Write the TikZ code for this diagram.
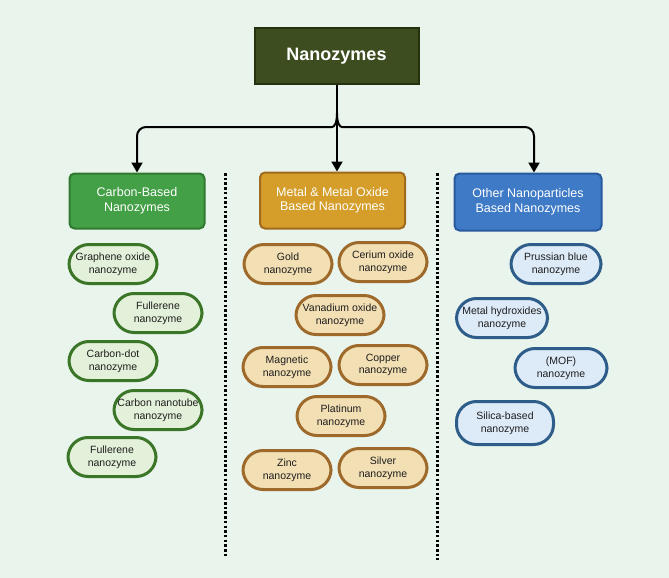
\documentclass[tikz,border=0pt]{standalone}
\usepackage{fontspec}
\setmainfont{Liberation Sans}
\usetikzlibrary{arrows.meta}
\definecolor{bgc}{HTML}{E9F4EC}
\definecolor{topfill}{HTML}{3E4D1F}
\definecolor{topdraw}{HTML}{26310F}
\definecolor{cfill}{HTML}{43A047}
\definecolor{cdraw}{HTML}{2F7A30}
\definecolor{mfill}{HTML}{D59E2A}
\definecolor{mdraw}{HTML}{A06B1E}
\definecolor{ofill}{HTML}{3E7AC6}
\definecolor{odraw}{HTML}{2A5A9E}
\definecolor{cpill}{HTML}{E3F1DA}
\definecolor{cpdraw}{HTML}{3B7527}
\definecolor{mpill}{HTML}{F3DFB4}
\definecolor{mpdraw}{HTML}{9E6A2C}
\definecolor{opill}{HTML}{DDEAF8}
\definecolor{opdraw}{HTML}{2F5D8A}
\definecolor{txt}{HTML}{1E1E1E}
\tikzset{
  catbox/.style={draw, line width=2pt, rounded corners=5pt, text=white,
    font=\fontsize{12.5}{14.5}\selectfont, align=center, inner sep=0pt},
  pill/.style={draw, line width=3pt, rounded corners=20pt, minimum width=88pt,
    minimum height=39pt, text=txt, font=\fontsize{10.5}{12.8}\selectfont, align=center, inner sep=0pt},
  cp/.style={pill, fill=cpill, draw=cpdraw},
  mp/.style={pill, fill=mpill, draw=mpdraw},
  op/.style={pill, fill=opill, draw=opdraw},
  conn/.style={line width=2pt, draw=black, -{Triangle[width=11pt,length=10pt]}},
  sep/.style={line width=3pt, dash pattern=on 2.5pt off 2.2pt, draw=black}
}
\begin{document}
\begin{tikzpicture}[x=1pt,y=-1pt]
\useasboundingbox (0,0) rectangle (669,578);
\fill[bgc] (0,0) rectangle (669,578);

\node[draw=topdraw, fill=topfill, line width=2pt, minimum width=164pt, minimum height=55pt,
  text=white, font=\fontsize{18}{20}\selectfont\bfseries, inner sep=0pt] (top) at (336.5,56) {Nanozymes};

\node[catbox, fill=cfill, draw=cdraw, minimum width=135pt, minimum height=55pt] (carbon) at (137,201) {Carbon-Based\\Nanozymes};
\node[catbox, fill=mfill, draw=mdraw, minimum width=145pt, minimum height=56pt] (metal) at (332.5,200.5) {Metal \& Metal Oxide\\Based Nanozymes};
\node[catbox, fill=ofill, draw=odraw, minimum width=147pt, minimum height=57pt] (other) at (528,202) {Other Nanoparticles\\Based Nanozymes};

% connectors
\coordinate (j) at (337,113);
\coordinate (lc) at (137,127);
\coordinate (rc) at (534,127);
\coordinate (mc) at (337,127);
\draw[conn] (top.south -| mc) -- (mc |- metal.north);
\draw[conn, rounded corners=9pt] (j) .. controls (337,124) and (334,127) .. (323,127) -- (lc) -- (lc |- carbon.north);
\draw[conn, rounded corners=9pt] (j) .. controls (337,124) and (340,127) .. (351,127) -- (rc) -- (rc |- other.north);

% separators
\coordinate (s1a) at (225,173);
\coordinate (s1b) at (225,556);
\coordinate (s2a) at (437,173);
\coordinate (s2b) at (437,560);
\draw[sep] (s1a) -- (s1b);
\draw[sep] (s2a) -- (s2b);

% carbon pills
\node[cp] (c1) at (113,264) {Graphene oxide\\nanozyme};
\node[cp] (c2) at (158,313) {Fullerene\\nanozyme};
\node[cp] (c3) at (113,361) {Carbon-dot\\nanozyme};
\node[cp] (c4) at (158,410) {Carbon nanotube\\nanozyme};
\node[cp] (c5) at (112,457) {Fullerene\\nanozyme};

% metal pills
\node[mp] (m1) at (288,264) {Gold\\nanozyme};
\node[mp] (m2) at (383,262) {Cerium oxide\\nanozyme};
\node[mp] (m3) at (340,315) {Vanadium oxide\\nanozyme};
\node[mp] (m4) at (287,367) {Magnetic\\nanozyme};
\node[mp] (m5) at (383,365) {Copper\\nanozyme};
\node[mp] (m6) at (341,416) {Platinum\\nanozyme};
\node[mp] (m7) at (287,470) {Zinc\\nanozyme};
\node[mp] (m8) at (383,468) {Silver\\nanozyme};

% other pills
\node[op, minimum width=90pt] (o1) at (556,264) {Prussian blue\\nanozyme};
\node[op, minimum width=91pt] (o2) at (502,318) {Metal hydroxides\\nanozyme};
\node[op, minimum width=92pt] (o3) at (561,368) {(MOF)\\nanozyme};
\node[op, minimum width=97pt, minimum height=43pt] (o4) at (505,423) {Silica-based\\nanozyme};
\end{tikzpicture}
\end{document}
